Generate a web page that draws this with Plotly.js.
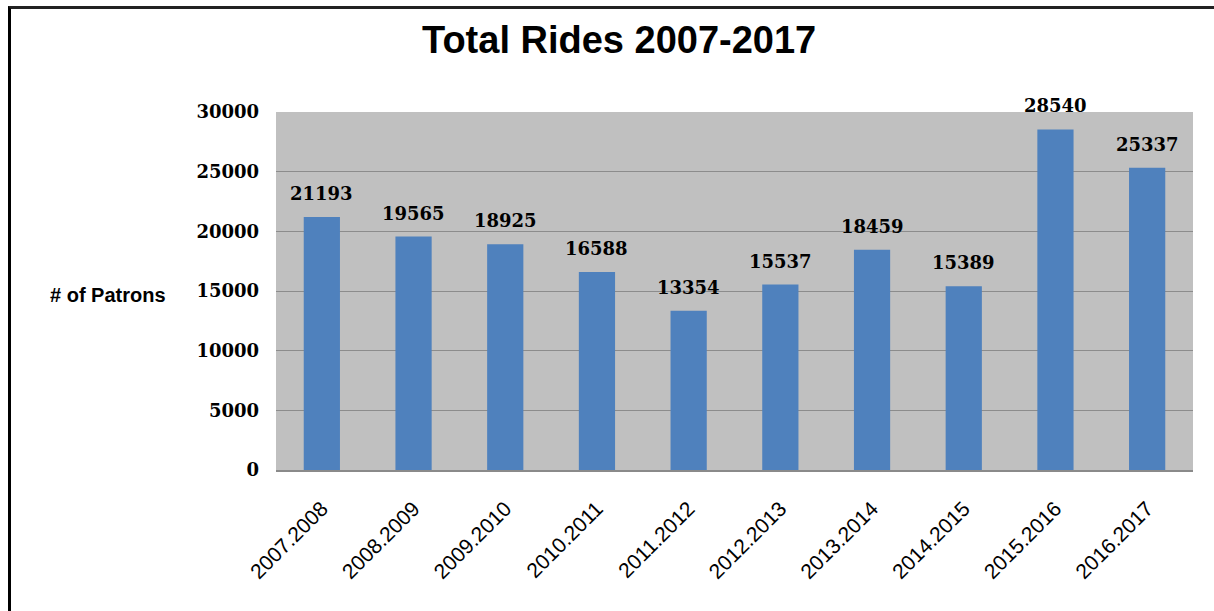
<!DOCTYPE html>
<html>
<head>
<meta charset="utf-8">
<script src="https://cdn.plot.ly/plotly-3.0.1.min.js"></script>
<style>
  html, body { margin: 0; padding: 0; background: #ffffff; }
  #wrap { position: relative; width: 1214px; height: 611px; overflow: hidden; }
  #chart { position: absolute; left: 0; top: 0; width: 1214px; height: 611px; }
  #frame { position: absolute; left: 8px; top: 6px; width: 1220px; height: 620px;
           border-left: 3px solid #000; border-top: 3px solid #222; pointer-events: none; }
</style>
</head>
<body>
<div id="wrap">
  <div id="chart"></div>
  <div id="frame"></div>
</div>
<script>
const seasons = ["2007.2008", "2008.2009", "2009.2010", "2010.2011", "2011.2012",
                 "2012.2013", "2013.2014", "2014.2015", "2015.2016", "2016.2017"];
const rides = [21193, 19565, 18925, 16588, 13354, 15537, 18459, 15389, 28540, 25337];
const yTicks = [0, 5000, 10000, 15000, 20000, 25000, 30000];
const chartTitle = "Total Rides 2007-2017";
const yTitle = "# of Patrons";

const numFont = { family: "DejaVu Serif, Liberation Serif, serif", size: 18, color: "#000000", weight: 700 };

// on a category axis, annotation x is given as the category index
const annotations = seasons.map((s, i) => ({
  x: i, y: rides[i], xref: "x", yref: "y",
  text: "<b>" + rides[i] + "</b>",
  showarrow: false, yanchor: "bottom", xanchor: "center", yshift: 11,
  font: numFont
}));
annotations.push({
  text: "<b>" + yTitle + "</b>",
  xref: "paper", yref: "paper", x: -0.118, y: 0.49,
  xanchor: "right", yanchor: "middle", showarrow: false,
  font: { family: "Liberation Sans, Arial, sans-serif", size: 20, color: "#000000" }
});

const trace = {
  type: "bar",
  x: seasons,
  y: rides,
  marker: { color: "#4F81BD" },
  hoverinfo: "x+y"
};

const layout = {
  width: 1214, height: 611,
  margin: { l: 276, r: 21, t: 112, b: 141 },
  paper_bgcolor: "#ffffff",
  plot_bgcolor: "#C0C0C0",
  showlegend: false,
  bargap: 0.605,
  title: {
    text: "<b>" + chartTitle + "</b>",
    xref: "container", yref: "container",
    x: 0.51, xanchor: "center", y: 1 - 40 / 611, yanchor: "middle",
    font: { family: "Liberation Sans Narrow, Liberation Sans, Arial, sans-serif", size: 38, color: "#000000" }
  },
  xaxis: {
    type: "category",
    range: [-0.5, seasons.length - 0.5],
    tickangle: -45,
    tickfont: { family: "Liberation Sans, Arial, sans-serif", size: 21, color: "#000000" },
    showgrid: false,
    showline: true, linecolor: "#8a8a8a", linewidth: 2,
    ticks: "",
    ticklabelstandoff: 16
  },
  yaxis: {
    range: [0, 30000],
    tickvals: yTicks,
    ticktext: yTicks.map(String),
    tickfont: numFont,
    showgrid: true, gridcolor: "#8c8c8c", gridwidth: 1,
    zeroline: false,
    showline: false,
    ticks: "",
    ticklabelstandoff: 16
  },
  annotations: annotations
};

Plotly.newPlot("chart", [trace], layout, { displayModeBar: false, staticPlot: true });
</script>
</body>
</html>
